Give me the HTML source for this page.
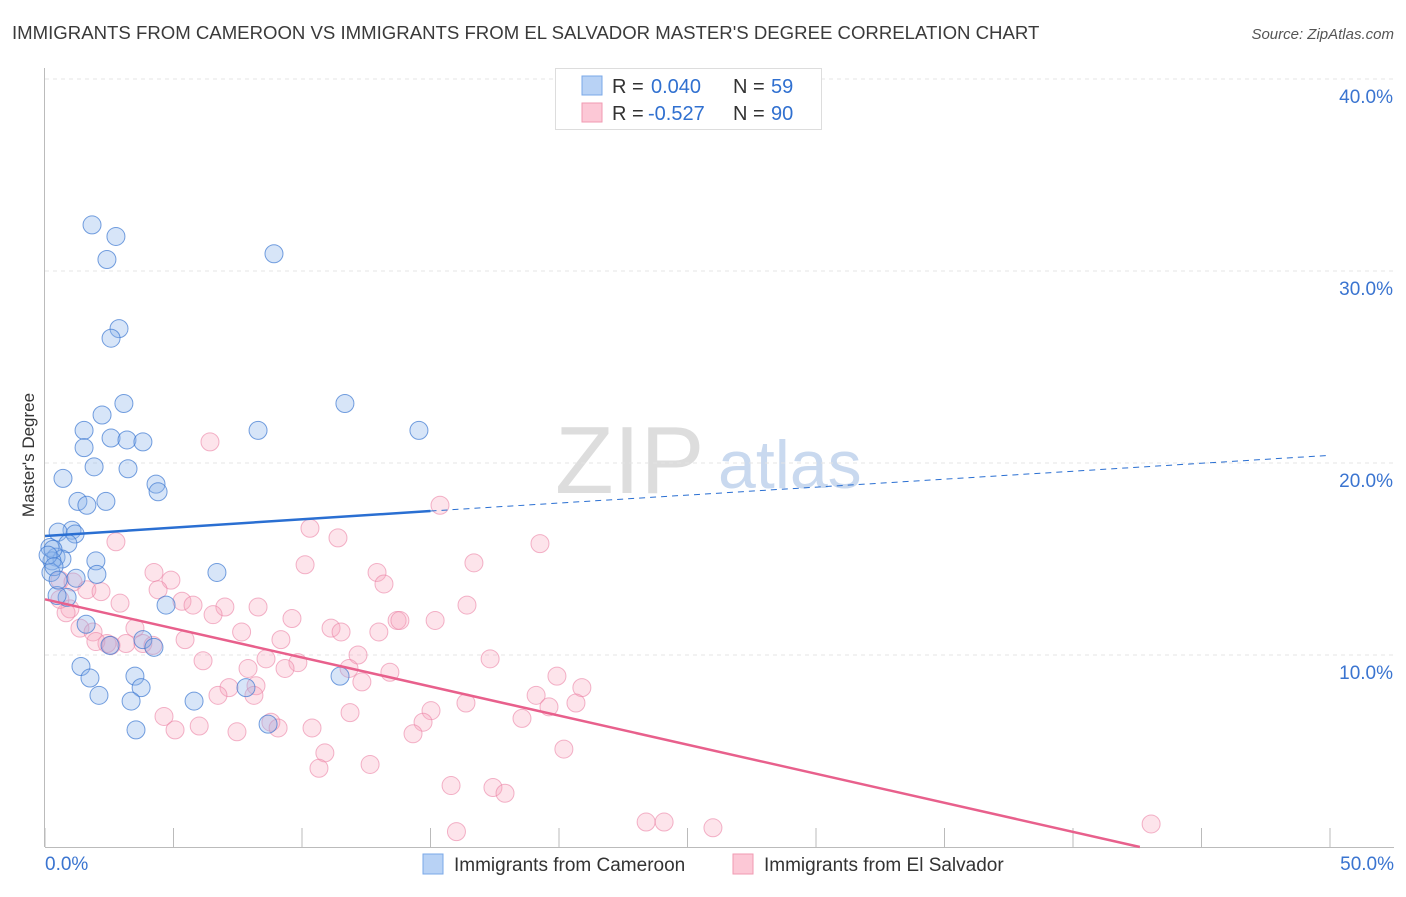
<!DOCTYPE html>
<html><head><meta charset="utf-8"><style>
body{margin:0;background:#fff;font-family:"Liberation Sans",sans-serif;}
svg text{font-family:"Liberation Sans",sans-serif;}
</style></head><body>
<svg id="chart" width="1406" height="892">
<text x="12" y="39" font-size="18.6" fill="#3a3a3a">IMMIGRANTS FROM CAMEROON VS IMMIGRANTS FROM EL SALVADOR MASTER'S DEGREE CORRELATION CHART</text>
<text x="1394" y="39" font-size="15" fill="#555" font-style="italic" text-anchor="end">Source: ZipAtlas.com</text>
<text x="34" y="455" font-size="17" fill="#333" text-anchor="middle" transform="rotate(-90 34 455)">Master's Degree</text>
<text x="555" y="493" font-size="96" fill="#ddd">ZIP</text>
<text x="718" y="488" font-size="68" fill="#c9d9ef">atlas</text>
<g id="grid"></g><g id="axes"></g>
<g id="pink"></g><g id="blue"></g><g id="lines"></g>
<g>
<rect x="555.5" y="68.5" width="266" height="61" fill="#fff" stroke="#ddd"/>
<rect x="582" y="76" width="20" height="19" fill="#b8d2f5" stroke="#7aa8e8"/>
<rect x="582" y="103" width="20" height="19" fill="#fcc8d6" stroke="#f09ab2"/>
<text x="612" y="93" font-size="20" fill="#333">R = </text><text x="651" y="93" font-size="20" fill="#3070d0">0.040</text>
<text x="733" y="93" font-size="20" fill="#333">N = </text><text x="771" y="93" font-size="20" fill="#3070d0">59</text>
<text x="612" y="120" font-size="20" fill="#333">R = </text><text x="648" y="120" font-size="20" fill="#3070d0">-0.527</text>
<text x="733" y="120" font-size="20" fill="#333">N = </text><text x="771" y="120" font-size="20" fill="#3070d0">90</text>
</g>
<g>
<rect x="423" y="854" width="20" height="20" fill="#b8d2f5" stroke="#7aa8e8"/>
<text x="454" y="871" font-size="19" fill="#333">Immigrants from Cameroon</text>
<rect x="733" y="854" width="20" height="20" fill="#fcc8d6" stroke="#f09ab2"/>
<text x="764" y="871" font-size="19" fill="#333">Immigrants from El Salvador</text>
</g>
</svg>
<script>
const xTicks=[0,5,10,15,20,25,30,35,40,45,50];
const yTicks=[10,20,30,40];
const blueX=[1.83,2.76,2.41,8.91,2.88,2.57,3.07,11.67,2.22,1.52,8.29,14.55,2.57,3.19,3.81,1.52,1.91,3.23,0.70,4.32,4.40,1.28,1.63,2.37,1.05,0.51,1.17,0.89,0.19,0.43,0.66,0.27,1.98,0.23,1.21,2.02,6.69,0.86,0.47,1.60,4.71,3.81,2.53,4.24,1.40,1.75,2.10,3.50,3.74,3.35,5.80,7.82,11.48,3.54,8.68,0.31,0.12,0.35,0.51];
const blueY=[32.4,31.8,30.6,30.9,27.0,26.5,23.1,23.1,22.5,21.7,21.7,21.7,21.3,21.2,21.1,20.8,19.8,19.7,19.2,18.9,18.5,18.0,17.8,18.0,16.5,16.4,16.3,15.8,15.6,15.1,15.0,14.9,14.9,14.3,14.0,14.2,14.3,13.0,13.1,11.6,12.6,10.8,10.5,10.4,9.4,8.8,7.9,8.9,8.3,7.6,7.6,8.3,8.9,6.1,6.4,15.5,15.2,14.6,13.9];
const pinkX=[6.42,15.37,10.31,11.40,2.76,19.26,10.12,16.69,4.24,4.90,12.92,13.19,0.58,1.09,1.63,2.18,4.40,2.92,5.33,5.76,7.00,8.29,16.42,0.97,0.82,6.54,9.61,13.70,15.18,13.81,11.13,11.52,12.99,3.50,1.36,1.87,2.41,5.45,7.65,9.18,1.98,2.57,3.15,3.81,4.20,12.18,6.15,8.60,9.84,7.90,9.34,11.83,13.42,17.32,19.92,20.89,12.33,7.16,8.21,6.73,8.13,4.63,5.06,6.00,7.47,8.79,9.07,10.39,11.87,15.02,16.38,19.11,19.61,20.66,18.56,14.71,14.32,20.19,10.89,10.66,12.65,15.80,17.43,17.90,16.01,23.39,24.09,25.99,43.04,0.58];
const pinkY=[21.1,17.8,16.6,16.1,15.9,15.8,14.7,14.8,14.3,13.9,14.3,13.7,13.9,13.8,13.4,13.3,13.4,12.7,12.8,12.6,12.5,12.5,12.6,12.4,12.2,12.1,11.9,11.8,11.8,11.8,11.4,11.2,11.2,11.4,11.4,11.2,10.6,10.8,11.2,10.8,10.7,10.5,10.6,10.6,10.5,10.0,9.7,9.8,9.6,9.3,9.3,9.3,9.1,9.8,8.9,8.3,8.6,8.3,8.4,7.9,7.9,6.8,6.1,6.3,6.0,6.5,6.2,6.2,7.0,7.1,7.5,7.9,7.3,7.5,6.7,6.5,5.9,5.1,4.9,4.1,4.3,3.2,3.1,2.8,0.8,1.3,1.3,1.0,1.2,12.9];
const blueLine=[0,16.2,15,17.5,50,20.4];
const pinkLine=[0,12.9,42.6,0];
const X=v=>45+v*25.7, Y=v=>847-v*19.2;
const NS="http://www.w3.org/2000/svg";
function mk(t,a,p){const e=document.createElementNS(NS,t);for(const k in a)e.setAttribute(k,a[k]);document.getElementById(p).appendChild(e);return e;}
yTicks.forEach(t=>{
 const l=mk('line',{x1:45,x2:1394,y1:Y(t),y2:Y(t),stroke:'#e4e4e4','stroke-dasharray':'4,4'},'grid');
 
 
 const tx=mk('text',{x:1393,y:Y(t)+24,'font-size':19,fill:'#3a74d0','text-anchor':'end'},'axes');tx.textContent=t.toFixed(1)+'%';
 
 
});
mk('line',{x1:44.5,x2:44.5,y1:68,y2:847,stroke:'#bbb'},'axes');
mk('line',{x1:45,x2:1394,y1:847.5,y2:847.5,stroke:'#bbb'},'axes');
xTicks.forEach(t=>{const l=mk('line',{x1:X(t),x2:X(t),y1:828,y2:847,stroke:'#bbb'},'axes');
 
 });
[[0,'0.0%',45,'start'],[50,'50.0%',1394,'end']].forEach(a=>{const t=mk('text',{x:a[2],y:870,'font-size':19,fill:'#3a74d0','text-anchor':a[3]},'axes');t.textContent=a[1];
 
 });
pinkX.forEach((v,i)=>{const c=mk('circle',{cx:X(v),cy:Y(pinkY[i]),r:9,fill:'rgba(247,165,190,0.3)',stroke:'rgba(235,130,165,0.6)','stroke-width':1},'pink');
 
 });
blueX.forEach((v,i)=>{const c=mk('circle',{cx:X(v),cy:Y(blueY[i]),r:9,fill:'rgba(140,180,235,0.35)',stroke:'rgba(60,120,210,0.7)','stroke-width':1},'blue');
 
 });
const b1=mk('line',{x1:X(blueLine[0]),y1:Y(blueLine[1]),x2:X(blueLine[2]),y2:Y(blueLine[3]),stroke:'#2a6fd2','stroke-width':2.5},'lines');


const b2=mk('line',{x1:X(blueLine[2]),y1:Y(blueLine[3]),x2:X(blueLine[4]),y2:Y(blueLine[5]),stroke:'#2a6fd2','stroke-width':1,'stroke-dasharray':'6,5'},'lines');


const p1=mk('line',{x1:X(pinkLine[0]),y1:Y(pinkLine[1]),x2:X(pinkLine[2]),y2:Y(pinkLine[3]),stroke:'#e8608c','stroke-width':2.5},'lines');


</script>
</body></html>
